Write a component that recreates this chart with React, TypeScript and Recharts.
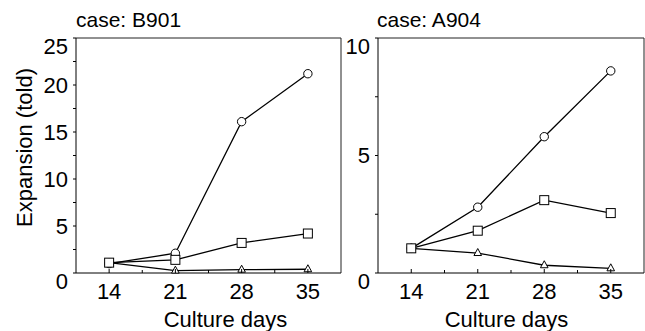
import React from "react";
import { LineChart, Line, XAxis, YAxis, ReferenceLine } from "recharts";

const days = [14, 21, 28, 35];
const xTicks = [14, 17.5, 21, 24.5, 28, 31.5, 35];
const xMajor = [14, 21, 28, 35];

const b901Circle = [1.0, 2.1, 16.1, 21.2];
const b901Square = [1.1, 1.4, 3.2, 4.2];
const b901Triangle = [1.1, 0.25, 0.35, 0.4];
const b901YTicks = [0, 2.5, 5, 7.5, 10, 12.5, 15, 17.5, 20, 22.5, 25];
const b901YMajor = [0, 5, 10, 15, 20, 25];

const a904Circle = [1.05, 2.8, 5.8, 8.6];
const a904Square = [1.05, 1.8, 3.1, 2.55];
const a904Triangle = [1.05, 0.85, 0.33, 0.2];
const a904YTicks = [0, 2.5, 5, 7.5, 10];
const a904YMajor = [0, 5, 10];

const FONT = "'Liberation Sans', Arial, Helvetica, sans-serif";

const b901Data = days.map((d, i) => ({
  day: d,
  circle: b901Circle[i],
  square: b901Square[i],
  triangle: b901Triangle[i],
}));
const a904Data = days.map((d, i) => ({
  day: d,
  circle: a904Circle[i],
  square: a904Square[i],
  triangle: a904Triangle[i],
}));

const CircleDot = (props: any) => {
  const { cx, cy, index } = props;
  if (cx == null || cy == null) return null;
  return <circle key={"c" + index} cx={cx} cy={cy} r={4.2} fill="#fff" stroke="#000" strokeWidth={1} />;
};
const SquareDot = (props: any) => {
  const { cx, cy, index } = props;
  if (cx == null || cy == null) return null;
  const s = 9;
  return <rect key={"s" + index} x={cx - s / 2} y={cy - s / 2} width={s} height={s} fill="#fff" stroke="#000" strokeWidth={1} />;
};
const TriDot = (props: any) => {
  const { cx, cy, index } = props;
  if (cx == null || cy == null) return null;
  const p = `${cx},${cy - 4.5} ${cx + 3.8},${cy + 2.5} ${cx - 3.8},${cy + 2.5}`;
  return <polygon key={"t" + index} points={p} fill="#fff" stroke="#000" strokeWidth={1} />;
};

const XTick = (props: any) => {
  const { x, y, payload } = props;
  const axisY = y - 10;
  const major = xMajor.includes(payload.value);
  return (
    <g>
      <line x1={x} x2={x} y1={axisY} y2={axisY - (major ? 4 : 3)} stroke="#000" strokeWidth={1} />
      {major && (
        <text x={x} y={y} dy="0.71em" textAnchor="middle" fontSize={22} fontFamily={FONT} fill="#000">
          {payload.value}
        </text>
      )}
    </g>
  );
};

const makeYTick = (majors: number[], max: number) => (props: any) => {
  const { x, y, payload } = props;
  const axisX = x + 8;
  const v = payload.value;
  const major = majors.includes(v);
  const topAlign = v === 0 || v === max;
  return (
    <g>
      <line x1={axisX} x2={axisX - 3} y1={y} y2={y} stroke="#000" strokeWidth={1} />
      {major && (
        <text x={x} y={y} dy={topAlign ? "0.71em" : "0.36em"} textAnchor="end" fontSize={22} fontFamily={FONT} fill="#000">
          {v}
        </text>
      )}
    </g>
  );
};

const Panel = ({ data, yMax, yTicks, yMajor, yWidth, width, right }: any) => (
  <LineChart
    width={width}
    height={331}
    data={data}
    margin={{ top: 38, right: right, bottom: 28, left: 0 }}
  >
    <XAxis
      dataKey="day"
      type="number"
      domain={[10.5, 38.5]}
      ticks={xTicks}
      interval={0}
      tickSize={0}
      tickMargin={10}
      tickLine={false}
      height={30}
      axisLine={{ stroke: "#000", strokeWidth: 1 }}
      tick={<XTick />}
    />
    <YAxis
      type="number"
      domain={[0, yMax]}
      ticks={yTicks}
      interval={0}
      tickSize={0}
      tickMargin={8}
      tickLine={false}
      width={yWidth}
      axisLine={{ stroke: "#000", strokeWidth: 1 }}
      tick={makeYTick(yMajor, yMax)}
    />
    <ReferenceLine y={yMax} stroke="#222" strokeWidth={1} />
    <ReferenceLine x={38.5} stroke="#222" strokeWidth={1} />
    <Line dataKey="circle" stroke="#000" strokeWidth={1.3} dot={CircleDot} isAnimationActive={false} />
    <Line dataKey="triangle" stroke="#000" strokeWidth={1.3} dot={TriDot} isAnimationActive={false} />
    <Line dataKey="square" stroke="#000" strokeWidth={1.3} dot={SquareDot} isAnimationActive={false} />
  </LineChart>
);

export default function App() {
  return (
    <div style={{ position: "absolute", left: 0, top: 0, width: 645, height: 331, background: "#fff" }}>
      <div style={{ position: "absolute", left: 0, top: 0 }}>
        <Panel data={b901Data} yMax={25} yTicks={b901YTicks} yMajor={b901YMajor} yWidth={76} width={345} right={4} />
      </div>
      <div style={{ position: "absolute", left: 345, top: 0 }}>
        <Panel data={a904Data} yMax={10} yTicks={a904YTicks} yMajor={a904YMajor} yWidth={33} width={300} right={1} />
      </div>
      <svg width={645} height={331} style={{ position: "absolute", left: 0, top: 0, pointerEvents: "none" }}>
        <g fontFamily={FONT} fill="#000">
          <text x={76} y={27} fontSize={21}>case: B901</text>
          <text x={377} y={27} fontSize={21}>case: A904</text>
          <text x={225.5} y={327} fontSize={22} textAnchor="middle">Culture days</text>
          <text x={506.5} y={327} fontSize={22} textAnchor="middle">Culture days</text>
          <text transform="translate(31.5,147.5) rotate(-90)" fontSize={22} textAnchor="middle">Expansion (told)</text>
        </g>
      </svg>
    </div>
  );
}
